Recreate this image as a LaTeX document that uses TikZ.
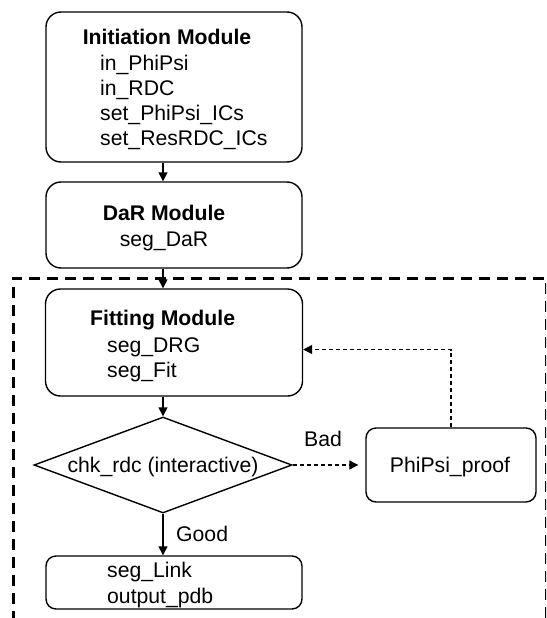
\documentclass[tikz,border=0pt]{standalone}
\usepackage{fontspec}
\setmainfont{Liberation Sans}
\usetikzlibrary{shapes.geometric,arrows.meta}
\begin{document}
\begin{tikzpicture}[x=1pt,y=-1pt,
  box/.style={draw,line width=1.4pt,rectangle,rounded corners=15pt,inner sep=0pt},
  sbox/.style={draw,line width=1.4pt,rectangle,rounded corners=10pt,inner sep=0pt},
  dia/.style={draw,line width=1.4pt,diamond,inner sep=0pt,minimum width=258pt,minimum height=96pt},
  txt/.style={inner sep=0pt,font=\fontsize{21.2}{25}\selectfont},
  ttl/.style={txt,font=\fontsize{21.2}{25}\selectfont\bfseries},
  arr/.style={line width=1.4pt,-{Triangle[length=9pt,width=9pt]}},
  darr/.style={line width=1.2pt,dash pattern=on 4pt off 3pt,-{Triangle[length=9pt,width=9pt]}},
  frame/.style={line width=3pt,dash pattern=on 11pt off 7pt}
]
\useasboundingbox (0,0) rectangle (546,618);
\clip (0,0) rectangle (546,618);
% dashed frame
\draw[frame] (13,640) -- (13,278) -- (546.5,278) -- (546.5,640);
% boxes
\node[box,minimum width=256pt,minimum height=150pt] (init) at (174,87) {};
\node[box,minimum width=256pt,minimum height=86pt] (dar) at (174,225) {};
\node[box,minimum width=257pt,minimum height=107pt] (fit) at (174,342.5) {};
\node[dia] (chk) at (163,465) {};
\node[sbox,minimum width=170pt,minimum height=74pt] (phi) at (451,465) {};
\node[sbox,minimum width=256pt,minimum height=53pt] (out) at (174,582.5) {};
% texts
\node[ttl,anchor=base] (t1) at (167,44.5) {Initiation Module};
\node[txt,anchor=base west] (t1a) at (100,70.5) {in\_PhiPsi};
\node[txt,anchor=base west] (t1b) at (100,95.5) {in\_RDC};
\node[txt,anchor=base west] (t1c) at (100,120.5) {set\_PhiPsi\_ICs};
\node[txt,anchor=base west] (t1d) at (100,145.5) {set\_ResRDC\_ICs};
\node[ttl,anchor=base] (t2) at (164,220.5) {DaR Module};
\node[txt,anchor=base] (t2a) at (164,246.5) {seg\_DaR};
\node[ttl,anchor=base west] (t3) at (90,325.5) {Fitting Module};
\node[txt,anchor=base west] (t3a) at (107,352) {seg\_DRG};
\node[txt,anchor=base west] (t3b) at (107,377) {seg\_Fit};
\node[txt,anchor=base] (t4) at (163,472.5) {chk\_rdc (interactive)};
\node[txt,anchor=base] (t5) at (450,472.5) {PhiPsi\_proof};
\node[txt,anchor=base west] (t6a) at (107,577) {seg\_Link};
\node[txt,anchor=base west] (t6b) at (107,603) {output\_pdb};
\node[txt,anchor=base] (bad) at (323,446) {Bad};
\node[txt,anchor=base west] (good) at (176,541) {Good};
% connectors
\draw[arr] (init.south -| chk) -- (dar.north -| chk);
\draw[arr] (dar.south -| chk) -- (fit.north -| chk);
\draw[arr] (fit.south -| chk) -- (chk.north);
\draw[arr] (chk.south) -- (out.north -| chk);
\draw[darr,shorten >=7pt] (chk.east) -- (phi.west);
\draw[darr] (phi.north) |- ([yshift=-7pt]fit.east);
\end{tikzpicture}
\end{document}
